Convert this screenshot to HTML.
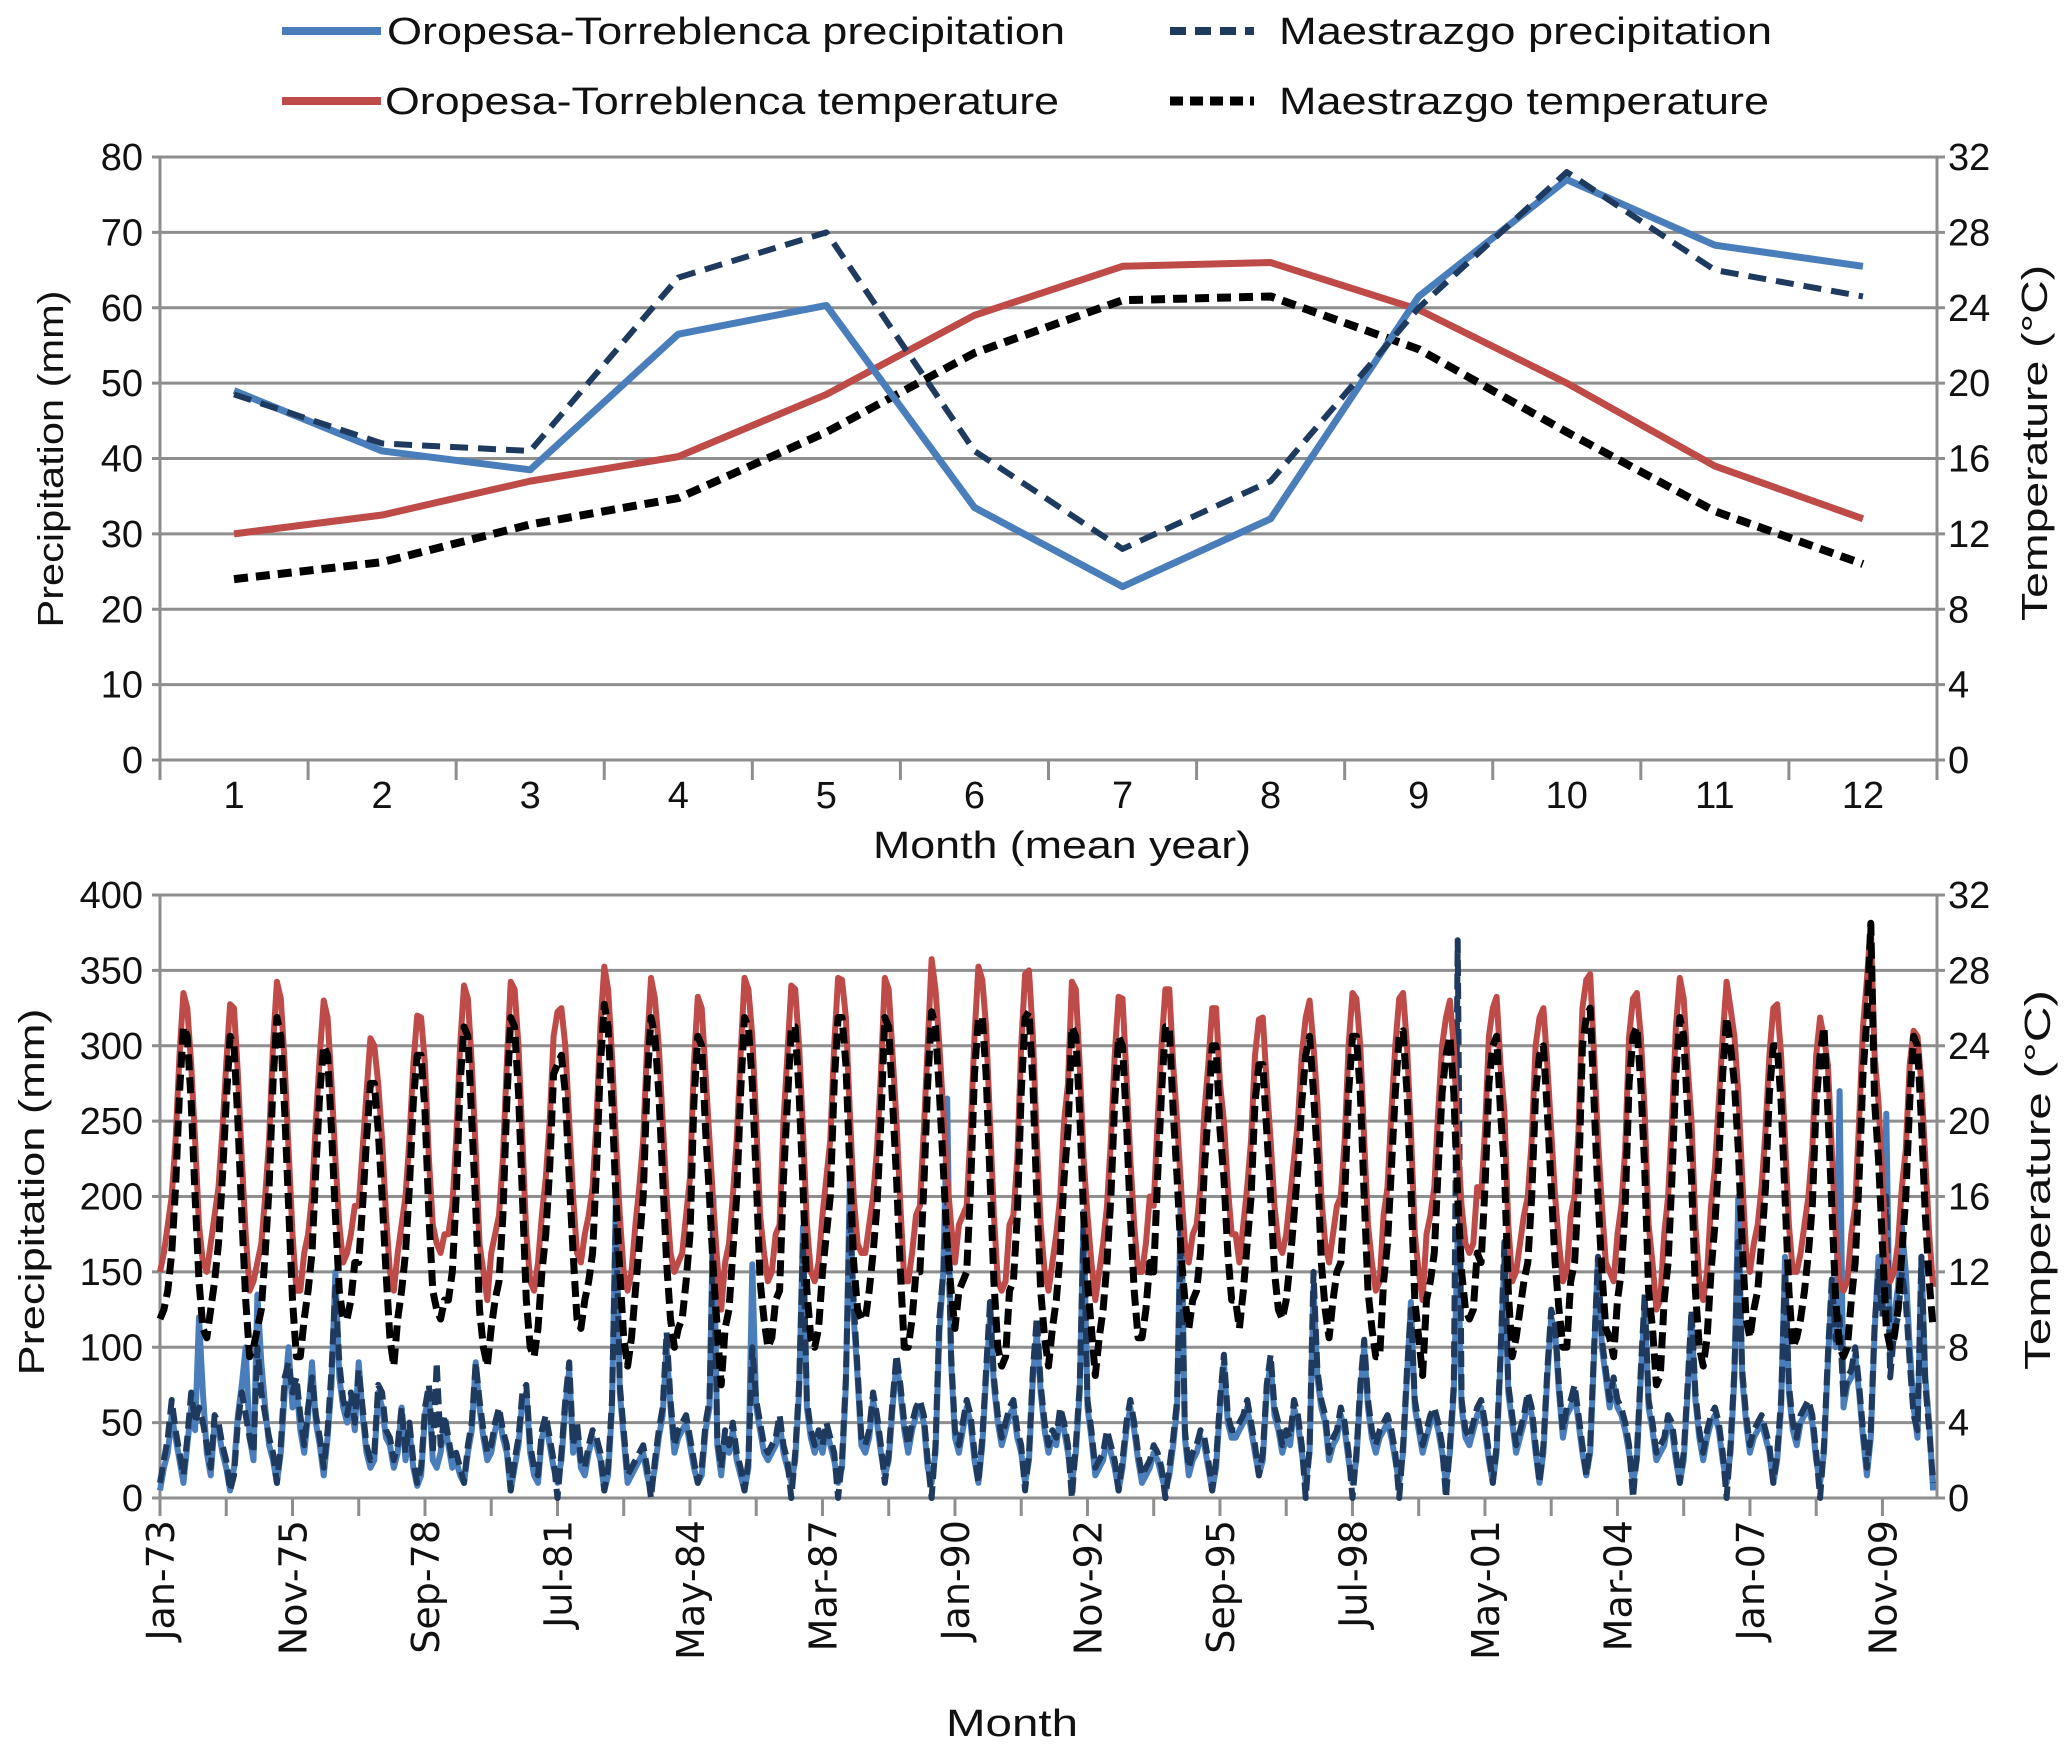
<!DOCTYPE html>
<html><head><meta charset="utf-8"><style>
html,body{margin:0;padding:0;background:#fff}
svg{display:block}
text{font-family:"Liberation Sans",sans-serif;fill:#111}
text.dl{font-family:"DejaVu Sans",sans-serif}
</style></head><body>
<svg id="chart" width="2067" height="1755" viewBox="0 0 2067 1755" xmlns="http://www.w3.org/2000/svg">
<g id="legend">
  <g>
    <line x1="282" y1="31" x2="381" y2="31" stroke="#4a7ebb" stroke-width="8"/>
    <text x="387" y="44" font-size="38" textLength="678" lengthAdjust="spacingAndGlyphs">Oropesa-Torreblenca precipitation</text>
  </g>
  <g>
    <line x1="1170" y1="31" x2="1254" y2="31" stroke="#1f3a5f" stroke-width="8" stroke-dasharray="16,9"/>
    <text x="1279" y="44" font-size="38" textLength="493" lengthAdjust="spacingAndGlyphs">Maestrazgo precipitation</text>
  </g>
  <g>
    <line x1="282" y1="101" x2="381" y2="101" stroke="#be4b48" stroke-width="8"/>
    <text x="385" y="114" font-size="38" textLength="674" lengthAdjust="spacingAndGlyphs">Oropesa-Torreblenca temperature</text>
  </g>
  <g>
    <line x1="1170" y1="101" x2="1254" y2="101" stroke="#000" stroke-width="9" stroke-dasharray="13,7"/>
    <text x="1279" y="114" font-size="38" textLength="490" lengthAdjust="spacingAndGlyphs">Maestrazgo temperature</text>
  </g>
</g>
<g id="top"></g>
<g id="bot"></g>
</svg>
<script>
// ---------- Top chart data ----------
const months = [1,2,3,4,5,6,7,8,9,10,11,12];
const opPrecipMean = [49,41,38.5,56.5,60.3,33.5,23,32,61.5,77,68.3,65.5];
const mpPrecipMean = [48.5,42,41,64,70,41,28,37,60,78,65,61.5];
const otTempMean = [12,13,14.8,16.1,19.4,23.6,26.2,26.4,23.9,20,15.6,12.8];
const mtTempMean = [9.6,10.5,12.5,13.9,17.4,21.6,24.4,24.6,21.8,17.4,13.2,10.4];
const topPrecipTicks = [0,10,20,30,40,50,60,70,80];
const topTempTicks = [0,4,8,12,16,20,24,28,32];

// ---------- Bottom chart data (Jan-73 .. Dec-10, one row per year) ----------
const dateLabels = ["Jan-73","Nov-75","Sep-78","Jul-81","May-84","Mar-87","Jan-90","Nov-92","Sep-95","Jul-98","May-01","Mar-04","Jan-07","Nov-09"];
const botPrecipTicks = [0,50,100,150,200,250,300,350,400];
const botTempTicks = [0,4,8,12,16,20,24,28,32];
const otTemp = [].concat(
[12,13,14.5,16,19,23.5,26.8,26,23,19,14.5,12.5],[12,13.5,15,16.5,19.5,23,26.2,26,22.5,18,14,11],
[11.5,12.5,13.5,16,19,24,27.4,26.5,23,18.5,14,11],[11,13,14,16,20,23.5,26.4,25.5,22,18,14.5,12.5],
[13,14,15.5,15.5,18.5,21.5,24.4,24,22,19,15,12],[11,13,14.5,16,19,23,25.6,25.5,23,18,14.5,13.5],
[13,14,14,15.5,19,24,27.2,26.5,23,18.5,13.5,12],[10.5,13,14,15,18,23,27.4,27,24,19,14,11.5],
[11,12.5,15,17,20,24.5,25.8,26,24,20,16,13],[12.5,14,15,16.5,20,25,28.2,27,23.5,19,15,12],
[11,12,14.5,16.5,19,24,27.6,26.5,24,20,16,13],[12,12.5,13,15,17,23,26.6,26,22.5,19,15.5,12.5],
[10,12.5,13.5,16,19,23.5,27.6,27,24.5,20,15,13],[11.5,12,14,14.5,20,23.5,27.2,27,24,19.5,14.5,12],
[11.5,12.5,15,17,19,24,27.6,27.5,25.5,20.5,16,13.5],[13,13,14.5,16,18.5,22.5,27.6,27,23.5,20,15.5,11.5],
[11.5,13,15,15.5,19.5,24,28.6,27,24,20.5,17,14.5],[12.5,14.5,15,15.5,19.5,24.5,28.2,27.5,25,20,15,11.5],
[11,11.5,14.5,15,18,24,27.8,28,24.5,19,14.5,12],[11,12.5,14,16,20,22,27.4,27,23,18,15,12.5],
[10.5,12,13.5,15.5,19,23.5,26.6,26.5,22.5,18,14.5,12],[12,13.5,16,15.5,20,24,27,27,23,20,16.5,13.5],
[12.5,14,14.5,16.5,20.5,23,26,26,22,20,16.5,14],[14,12.5,14.5,16.5,19,23.5,25.4,25.5,22,19,15.5,13.5],
[13,14,16,18,20,23.5,25.5,26.4,24,21,16,13.5],[12.5,14,15.5,16,19,24,26.8,26.5,24,19,14.5,12.5],
[11,11.5,15,16.5,20.5,24,26.5,26.8,24,19.5,14,12],[10.5,14,15,16.5,20.5,24,25.5,26.4,24,19,15.5,13.5],
[13,13.5,16.5,16,19.5,24.5,26,26.6,23,20.5,14.5,11.5],[12,13.5,15,16,19,24,25.5,26,23,19.5,16,13.5],
[11.5,12,15,16,19.5,26,27.5,27.8,23.5,19,15.5,12.5],[12,11.5,14,15.5,18.5,24.5,26.5,26.8,24.5,20.5,14.5,12.5],
[10,10.5,14,16,20,25,27.6,26.5,23,20,14.5,11.5],[10.5,12,15.5,17.5,21,24.5,27.4,26,24.5,21.5,17,13],
[12,13.5,14.5,16.5,19.5,23.5,26,26.2,23.5,19,14.5,12],[12,13,14.5,16,18.5,23.5,25.5,24.4,23,18.5,14,11.5],
[11,11.5,14,15.5,20,25,27.5,30.4,23.5,21,17,12.5],[11.5,12,13.5,16.5,18.5,23,24.8,24.5,22,18,14,11.2]);
const mtTemp = [].concat(
[9.5,10,11,13,16.5,21.5,25,24.5,21,16,11.5,9],[8.5,10,11.5,13.5,17,21,24.5,24,20,15,10.5,7.5],
[8,9,10,13,16.5,22,25.5,24.5,20.5,15.5,10.5,7.5],[7.5,9.5,11,13,17.5,21.5,24,23.5,19.5,15,11,9.5],
[9.5,10.5,12.5,12.5,15.5,19,22,22,19.5,16,12,8.5],[7,9.5,11,13,16.5,21,23.5,23.5,20.5,15,11,10],
[9.5,10.5,10.5,12,16,22,25,24.5,20,15.5,10,8],[7,9,10.5,11.5,15,21,25.5,25,21.5,16,10.5,8],
[7.5,9,12,14,17.5,22.5,23,23.5,21.5,17,13,9.5],[9,10.5,11.5,13,17.5,23,26.2,25,21,16,12,8.5],
[7,8.5,11,13.5,16,22,25.5,24.5,21.5,17,12.5,9.5],[8,9,9.5,11.5,14,21,24.5,24,19.5,16,12,9],
[6,9,10,13,16,21.5,25.5,25,22,17,11.5,9.5],[8,8.5,10.5,11,17,21,25,25,21.5,16.5,11,8.5],
[8,9,12,14,16,22,25.5,25.5,23,17.5,12.5,10],[9.5,9.5,11,13,15.5,20,25.5,25,21,17,12,8],
[8,9.5,12,12,16.5,22,25.8,25,21.5,17.5,13.5,11],[9,11,11.5,12,16.5,22.5,25.5,25.5,22.5,17,11.5,8],
[7,7.5,11,11.5,15,21.5,25.5,25.8,22,16,11,8.5],[7,9,10.5,13,17,19.5,25,24.5,20.5,15,11.5,9],
[6.5,8.5,10,12.5,16,21,24.5,24,20,15,11,8.5],[8.5,10,12.5,12,17,21.5,25,25,20.5,17,13,10.5],
[9,10.5,11,13,17.5,20.5,24,24,19.5,17,13,10.5],[10.5,9,11,13.5,16,21,23,23,19.5,16,12,10],
[9.5,10.5,12.5,15,17.5,21,23.5,24.5,21.5,18,12.5,10],[8.5,10.5,12,12.5,16,21.5,24.5,24.5,21.5,16,11,9],
[7.5,7.5,11.5,13.5,17.5,21.5,24.5,24.8,21.5,16.5,10.5,8.5],[6.5,10.5,11.5,13,17.5,21.5,23.5,24.5,21.5,16,12,10],
[9.5,10,13,12.5,16.5,22,24,24.5,20.5,17.5,11,7.5],[8.5,10,11.5,12.5,16,21.5,23.5,24,20.5,16.5,12.5,10],
[8,8,11.5,12.5,16.5,24,25.5,26,21,16,12,9],[8.5,7.5,10.5,12,15.5,22,24.5,25,22,17.5,11,9],
[6,6.5,10.5,12.5,17,22.5,25.5,24.5,20.5,17,11,8],[7,8.5,12,14.5,18,22.5,25.5,24,22,18.5,13.5,9.5],
[8.5,10,11,13.5,16.5,21.5,24,24,21,16,11,8],[8.5,9.5,11,13,15.5,21,23.5,25,20.5,15.5,10.5,8],
[7.5,8,10.5,12.5,17,22.5,25.5,30.5,21,18,13.5,9],[8,8.5,10,13,16,21,24.5,24,20,15,11.5,9]);
const opPrecip = [].concat(
[5,20,30,55,40,25,10,35,60,45,120,70],[30,15,50,45,30,20,5,20,55,75,100,40],
[25,135,90,60,35,25,10,30,70,100,60,75],[45,30,55,90,50,35,15,40,75,150,80,60],
[50,65,45,90,55,30,20,25,70,60,40,35],[20,30,60,25,45,20,8,15,55,70,25,20],
[30,50,35,20,25,15,10,30,45,90,60,40],[25,30,45,55,40,30,5,20,35,65,70,30],
[15,10,40,50,35,20,10,25,60,85,30,45],[20,15,30,40,35,25,5,15,60,200,70,40],
[10,15,20,25,30,15,5,20,40,55,100,60],[30,40,45,50,35,20,10,15,45,60,200,35],
[15,40,30,45,25,15,5,20,155,60,45,30],[25,30,35,50,30,20,10,25,70,180,60,40],
[30,40,30,45,35,25,10,20,75,210,120,80],[35,30,40,65,50,30,15,25,60,90,70,45],
[30,45,55,60,50,20,10,30,110,150,265,90],[40,30,45,60,50,25,10,35,80,120,75,50],
[35,45,55,60,40,30,10,25,80,110,70,45],[30,40,35,55,45,30,10,30,70,190,60,40],
[15,20,25,40,30,20,5,20,45,60,45,25],[10,15,20,30,25,15,5,15,35,60,210,40],
[15,25,30,40,35,20,5,20,60,90,50,40],[40,45,50,60,45,30,15,25,70,90,55,45],
[30,40,35,60,50,30,10,30,140,80,60,50],[25,35,40,55,45,25,10,25,70,100,60,40],
[30,40,45,50,40,25,10,30,80,130,60,45],[30,40,50,55,45,30,10,30,70,175,60,40],
[35,45,55,60,45,25,10,30,90,160,70,50],[30,40,50,65,55,30,10,30,80,120,110,70],
[40,55,60,70,50,30,15,30,95,160,100,80],[60,75,60,55,45,30,10,25,80,130,60,45],
[25,30,35,50,45,25,10,25,70,120,65,40],[25,40,50,55,45,25,10,30,80,200,80,50],
[30,40,45,50,40,30,10,25,60,160,70,45],[35,50,55,60,50,25,10,30,90,140,100,270],
[60,75,80,95,70,40,15,40,110,160,130,255],[90,120,140,180,150,100,60,40,160,80,50,5]);
const mpPrecip = [].concat(
[10,25,40,65,45,30,15,40,70,50,60,50],[35,20,55,50,35,25,5,15,50,70,55,40],
[30,100,70,55,40,30,10,35,80,90,70,80],[55,35,60,80,55,40,20,45,85,140,90,65],
[55,70,50,85,60,35,25,30,75,70,45,40],[25,35,60,30,50,25,10,20,60,75,30,90],
[35,55,40,25,30,20,10,35,50,90,65,45],[30,35,50,60,45,35,5,25,40,70,75,35],
[20,15,45,55,40,25,0,30,65,90,35,50],[25,20,35,45,40,30,5,20,65,190,75,45],
[15,20,25,30,35,20,0,25,45,60,110,65],[35,45,50,55,40,25,10,20,50,65,180,40],
[20,45,35,50,30,20,5,25,100,65,50,35],[30,35,40,55,35,25,0,30,75,170,65,45],
[35,45,35,50,40,30,0,25,80,190,130,85],[40,35,45,70,55,35,10,30,65,95,75,50],
[35,50,60,65,55,25,0,35,120,150,200,95],[45,35,50,65,55,30,10,40,85,130,80,55],
[40,50,60,65,45,35,5,30,85,120,75,50],[35,45,40,60,50,35,0,35,75,180,65,45],
[20,25,30,45,35,25,5,25,50,65,50,30],[15,20,25,35,30,20,0,20,40,65,180,45],
[20,30,35,45,40,25,5,25,65,95,55,45],[45,50,55,65,50,35,15,30,75,95,60,50],
[35,45,40,65,55,35,0,35,150,85,65,55],[30,40,45,60,50,30,0,30,75,105,65,45],
[35,45,50,55,45,30,0,35,85,125,65,50],[35,45,55,60,50,35,0,35,75,370,65,45],
[40,50,60,65,50,30,10,35,95,170,75,55],[35,45,55,70,60,35,10,35,85,125,115,75],
[45,60,65,75,55,35,15,35,100,160,105,85],[65,80,65,60,50,35,0,30,85,135,65,50],
[30,35,40,55,50,30,10,30,75,125,70,45],[30,45,55,60,50,30,0,35,85,170,85,55],
[35,45,50,55,45,35,10,30,65,150,75,50],[40,55,60,65,55,30,0,35,95,145,105,120],
[65,80,85,100,75,45,20,45,115,150,120,200],[80,110,120,150,130,90,55,45,160,75,45,10]);

const NS = "http://www.w3.org/2000/svg";
function mk(parent, tag, attrs, txt) {
  const e = document.createElementNS(NS, tag);
  for (const k in attrs) e.setAttribute(k, attrs[k]);
  if (txt !== undefined) e.textContent = txt;
  parent.appendChild(e);
  return e;
}
const GRID = "#8e8e8e";

// ---------- TOP CHART ----------
(function(){
  const g = document.getElementById('top');
  const L = 160, R = 1937, T = 157, B = 760;
  const band = (R - L) / months.length;
  const xM = i => L + (i + 0.5) * band;
  const yP = v => B - v / 80 * (B - T);
  const yT = v => B - v / 32 * (B - T);
  topPrecipTicks.forEach(v => {
    const ln = mk(g, 'line', {x1: L - 8, x2: R + 8, y1: yP(v), y2: yP(v), stroke: GRID, 'stroke-width': 3});
    
    
    const t = mk(g, 'text', {x: 143, y: yP(v) + 13, 'font-size': 38, 'text-anchor': 'end'}, String(v));
    
    
  });
  topTempTicks.forEach(v => {
    const t = mk(g, 'text', {x: 1948, y: yT(v) + 13, 'font-size': 38}, String(v));
    
    
  });
  let a = mk(g, 'line', {x1: L, x2: L, y1: T, y2: B, stroke: GRID, 'stroke-width': 3});
   
  a = mk(g, 'line', {x1: R, x2: R, y1: T, y2: B + 20, stroke: GRID, 'stroke-width': 3});
   
  for (let k = 0; k <= months.length; k++) {
    const tk = mk(g, 'line', {x1: L + k * band, x2: L + k * band, y1: B, y2: B + 20, stroke: GRID, 'stroke-width': 3});
    
    
  }
  months.forEach((m, i) => {
    const t = mk(g, 'text', {x: xM(i), y: 808, 'font-size': 38, 'text-anchor': 'middle'}, String(m));
    
    
  });
  let t = mk(g, 'text', {x: 1062, y: 858, 'font-size': 38, 'text-anchor': 'middle', textLength: 378, lengthAdjust: 'spacingAndGlyphs'}, 'Month (mean year)');
   
  t = mk(g, 'text', {x: 0, y: 0, 'font-size': 36, 'text-anchor': 'middle', textLength: 337, lengthAdjust: 'spacingAndGlyphs', transform: 'translate(63,459) rotate(-90)'}, 'Precipitation (mm)');
   
  t = mk(g, 'text', {x: 0, y: 0, 'font-size': 36, 'text-anchor': 'middle', textLength: 356, lengthAdjust: 'spacingAndGlyphs', transform: 'translate(2047,443) rotate(-90)'}, 'Temperature (°C)');
   
  function line(vals, yf, color, w, dash, name) {
    const p = mk(g, 'polyline', {points: vals.map((v, i) => xM(i) + ',' + yf(v)).join(' '), fill: 'none', stroke: color, 'stroke-width': w, 'stroke-linejoin': 'round'});
    if (dash) p.setAttribute('stroke-dasharray', dash);
    
    
  }
  line(otTempMean, yT, '#be4b48', 7, null, 'oropesa-temperature-mean-line');
  line(mtTempMean, yT, '#000', 8, '14,8', 'maestrazgo-temperature-mean-line');
  line(opPrecipMean, yP, '#4a7ebb', 7, null, 'oropesa-precipitation-mean-line');
  line(mpPrecipMean, yP, '#1f3a5f', 6, '18,10', 'maestrazgo-precipitation-mean-line');
})();

// ---------- BOTTOM CHART ----------
(function(){
  const g = document.getElementById('bot');
  const L = 160, R = 1937, T = 895, B = 1498;
  const n = otTemp.length;
  const step = (R - L) / n;
  const xI = i => L + i * step;
  const yP = v => B - v / 400 * (B - T);
  const yT = v => B - v / 32 * (B - T);
  botPrecipTicks.forEach(v => {
    const ln = mk(g, 'line', {x1: L - 8, x2: R + 8, y1: yP(v), y2: yP(v), stroke: GRID, 'stroke-width': 3});
    
    
    const t = mk(g, 'text', {x: 143, y: yP(v) + 13, 'font-size': 38, 'text-anchor': 'end'}, String(v));
    
    
  });
  botTempTicks.forEach(v => {
    const t = mk(g, 'text', {x: 1948, y: yT(v) + 13, 'font-size': 38}, String(v));
    
    
  });
  let a = mk(g, 'line', {x1: L, x2: L, y1: T, y2: B + 18, stroke: GRID, 'stroke-width': 3});
   
  a = mk(g, 'line', {x1: R, x2: R, y1: T, y2: B, stroke: GRID, 'stroke-width': 3});
   
  for (let i = 0; i < n; i += 17) {
    const tk = mk(g, 'line', {x1: xI(i), x2: xI(i), y1: B, y2: B + 18, stroke: GRID, 'stroke-width': 3});
    
    
  }
  dateLabels.forEach((lab, k) => {
    const x = xI(k * 34);
    const t = mk(g, 'text', {x: 0, y: 0, 'class': 'dl', 'font-size': 38, 'text-anchor': 'end', transform: 'translate(' + (x + 14) + ',1520) rotate(-90)'}, lab);
    
    
  });
  let t = mk(g, 'text', {x: 1012, y: 1736, 'font-size': 38, 'text-anchor': 'middle', textLength: 132, lengthAdjust: 'spacingAndGlyphs'}, 'Month');
   
  t = mk(g, 'text', {x: 0, y: 0, 'font-size': 36, 'text-anchor': 'middle', textLength: 367, lengthAdjust: 'spacingAndGlyphs', transform: 'translate(44,1192) rotate(-90)'}, 'Precipitation (mm)');
   
  t = mk(g, 'text', {x: 0, y: 0, 'font-size': 36, 'text-anchor': 'middle', textLength: 380, lengthAdjust: 'spacingAndGlyphs', transform: 'translate(2050,1180) rotate(-90)'}, 'Temperature (°C)');
   
  function line(vals, yf, color, w, dash, name) {
    const p = mk(g, 'polyline', {points: vals.map((v, i) => xI(i).toFixed(1) + ',' + yf(v).toFixed(1)).join(' '), fill: 'none', stroke: color, 'stroke-width': w, 'stroke-linejoin': 'round'});
    if (dash) p.setAttribute('stroke-dasharray', dash);
    
    
  }
  line(opPrecip, yP, '#4a7ebb', 6, null, 'oropesa-precipitation-line');
  line(mpPrecip, yP, '#1f3a5f', 6, '16,7', 'maestrazgo-precipitation-line');
  line(otTemp, yT, '#be4b48', 6, null, 'oropesa-temperature-line');
  line(mtTemp, yT, '#000', 7, '16,7', 'maestrazgo-temperature-line');
})();
</script>
</body></html>
